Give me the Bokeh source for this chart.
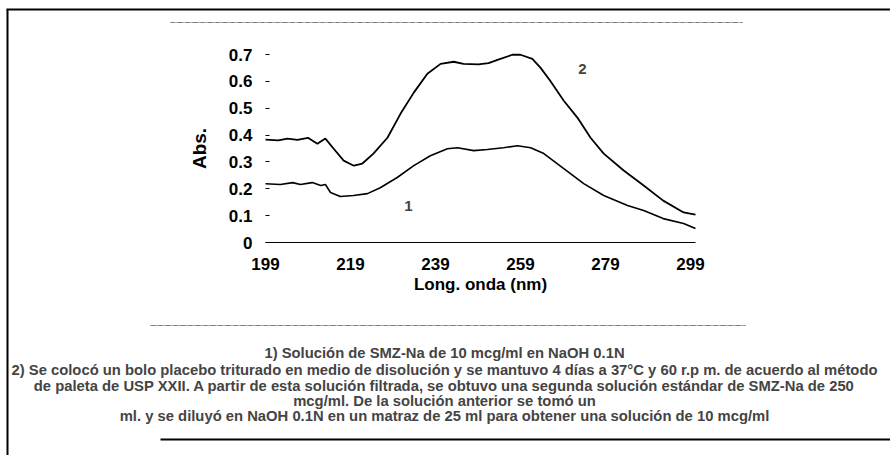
from bokeh.plotting import figure
from bokeh.models import Range1d, FixedTicker, Label, BoxAnnotation
from bokeh.embed import file_html
from bokeh.resources import INLINE

# ---- data ----
wl1 = [199.0, 202.5, 205.4, 207.2, 210.0, 212.0, 213.1, 214.3, 216.6, 219.7, 223.0,
       226.0, 230.0, 233.9, 237.8, 241.8, 244.2, 248.0, 251.2, 255.0, 258.3, 261.4,
       264.5, 269.2, 273.9, 278.6, 284.2, 288.0, 292.6, 297.4, 300.2]
abs1 = [0.219, 0.216, 0.223, 0.216, 0.223, 0.212, 0.216, 0.186, 0.171, 0.175, 0.182,
        0.204, 0.242, 0.286, 0.323, 0.349, 0.353, 0.342, 0.346, 0.353, 0.360, 0.353,
        0.331, 0.275, 0.219, 0.175, 0.138, 0.119, 0.089, 0.071, 0.052]

wl2 = [199.0, 202.0, 204.2, 206.5, 209.0, 211.2, 213.1, 215.0, 217.4, 219.8, 221.8,
       224.4, 227.7, 230.8, 233.9, 237.1, 240.2, 243.3, 245.6, 249.1, 251.5, 253.6,
       257.1, 259.0, 261.8, 263.7, 266.0, 269.2, 272.4, 275.5, 278.6, 283.3, 288.0,
       292.6, 297.4, 300.2]
abs2 = [0.383, 0.380, 0.387, 0.382, 0.390, 0.368, 0.387, 0.350, 0.305, 0.286, 0.294,
        0.331, 0.390, 0.480, 0.558, 0.628, 0.665, 0.673, 0.665, 0.663, 0.668, 0.680,
        0.699, 0.699, 0.684, 0.651, 0.602, 0.528, 0.465, 0.390, 0.331, 0.268, 0.212,
        0.156, 0.112, 0.104]

x_ticks = [199, 219, 239, 259, 279, 299]
y_ticks = [0, 0.1, 0.2, 0.3, 0.4, 0.5, 0.6, 0.7]
y_tick_labels = ["0", "0.1", "0.2", "0.3", "0.4", "0.5", "0.6", "0.7"]

series_names = ["1", "2"]
x_title = "Long. onda (nm)"
y_title = "Abs."
caption_lines = [
    "1) Solución de SMZ-Na de 10 mcg/ml en NaOH 0.1N",
    "2) Se colocó un bolo placebo triturado en medio de disolución y se mantuvo 4 días a 37°C y 60 r.p m. de acuerdo al método",
    "de paleta de USP XXII. A partir de esta solución filtrada, se obtuvo una segunda solución estándar de SMZ-Na de 250",
    "mcg/ml. De la solución anterior se tomó un",
    "ml. y se diluyó en NaOH 0.1N en un matraz de 25 ml para obtener una solución de 10 mcg/ml",
]

# ---- layout (canvas pixel coordinates) ----
W, H = 890, 455
PL, PR, PT, PB = 265, 695, 54, 242      # pixel of x=199 / x=300.2 / y=0.7 / y=0
XA, XB = 199.0, 300.2
YA, YB = 0.0, 0.7
FONT = "Liberation Sans"


def dx(px):
    return XA + (px - PL) * (XB - XA) / (PR - PL)


def dy(py):
    return YA + (PB - py) * (YB - YA) / (PB - PT)


p = figure(width=W, height=H, x_range=Range1d(dx(0), dx(W)), y_range=Range1d(dy(H), dy(0)),
           output_backend="svg", toolbar_location=None,
           min_border=0, min_border_left=0, min_border_right=0,
           min_border_top=0, min_border_bottom=0)
p.outline_line_color = None
p.xgrid.visible = False
p.ygrid.visible = False
p.background_fill_color = "white"
p.border_fill_color = "white"

p.line(wl1, abs1, line_color="black", line_width=1.6)
p.line(wl2, abs2, line_color="black", line_width=1.8)

# axes (fixed inside the canvas-wide frame)
xa = p.xaxis[0]
xa.fixed_location = 0
xa.bounds = (XA, XB)
xa.ticker = FixedTicker(ticks=x_ticks)
xa.axis_line_color = "black"
xa.axis_line_width = 1
xa.major_tick_in = 0
xa.major_tick_out = 0
xa.minor_tick_line_color = None
xa.major_label_standoff = 15
xa.major_label_text_font = FONT
xa.major_label_text_font_style = "bold"
xa.major_label_text_font_size = "17px"
xa.major_label_text_color = "black"
xa.axis_label = x_title
xa.axis_label_text_font = FONT
xa.axis_label_text_font_style = "bold"
xa.axis_label_text_font_size = "17px"
xa.axis_label_text_color = "black"
xa.axis_label_standoff = 2

ya = p.yaxis[0]
ya.fixed_location = XA
ya.bounds = (YA, YB)
ya.ticker = FixedTicker(ticks=y_ticks)
ya.major_label_overrides = {t: s for t, s in zip(y_ticks, y_tick_labels)}
ya.axis_line_color = None
ya.major_tick_in = 4
ya.major_tick_out = 0
ya.major_tick_line_color = "black"
ya.minor_tick_line_color = None
ya.major_label_standoff = 13
ya.major_label_text_font = FONT
ya.major_label_text_font_style = "bold"
ya.major_label_text_font_size = "17px"
ya.major_label_text_color = "black"
ya.axis_label = y_title
ya.axis_label_text_font = FONT
ya.axis_label_text_font_style = "bold"
ya.axis_label_text_font_size = "19px"
ya.axis_label_text_color = "black"
ya.axis_label_standoff = 16

# series labels
p.add_layout(Label(x=dx(408), y=dy(205), text=series_names[0], text_font=FONT,
                   text_font_style="bold", text_font_size="15px",
                   text_align="center", text_baseline="middle"))
p.add_layout(Label(x=dx(582), y=dy(68), text=series_names[1], text_font=FONT,
                   text_font_style="bold", text_font_size="15px",
                   text_align="center", text_baseline="middle"))

# caption
cap_y = [352, 369, 385, 400, 415]
for line, yy in zip(caption_lines, cap_y):
    p.add_layout(Label(x=dx(444), y=dy(yy), text=line, text_font=FONT,
                       text_font_style="bold", text_font_size="14.8px",
                       text_align="center", text_baseline="middle"))


# border lines of the scanned figure
def hline(x0, x1, yy, w=1.0, dash="solid"):
    p.add_layout(BoxAnnotation(left=dx(x0), right=dx(x1), top=dy(yy), bottom=dy(yy),
                               fill_alpha=0, line_color="black", line_width=w,
                               line_dash=dash))


def solid_box(x0, x1, y0, y1):
    p.add_layout(BoxAnnotation(left=dx(x0), right=dx(x1), top=dy(y0), bottom=dy(y1),
                               fill_color="black", fill_alpha=1, line_color=None))


solid_box(6, 8, 9, 455)
solid_box(6, 890, 8, 10)
solid_box(160, 890, 438, 440)
hline(170, 742, 22, 1, "12 3")
hline(150, 745, 325, 1, "12 3")

open("out.html", "w").write(file_html(p, INLINE))
